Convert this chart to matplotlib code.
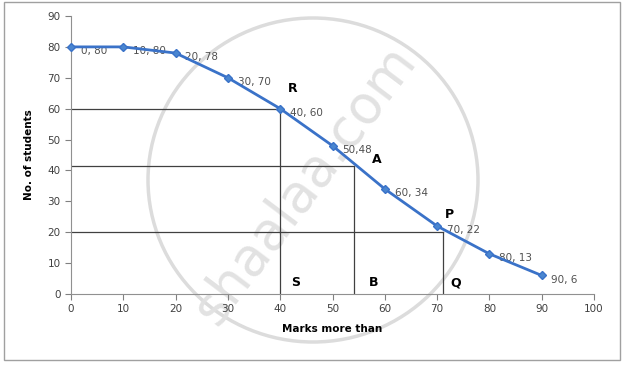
import matplotlib
matplotlib.use("Agg")
import matplotlib.pyplot as plt
from matplotlib.patches import Ellipse, Rectangle

marks = [0, 10, 20, 30, 40, 50, 60, 70, 80, 90]
students = [80, 80, 78, 70, 60, 48, 34, 22, 13, 6]
point_labels = ["0, 80", "10, 80", "20, 78", "30, 70", "40, 60", "50,48", "60, 34", "70, 22", "80, 13", "90, 6"]
x_ticks = [0, 10, 20, 30, 40, 50, 60, 70, 80, 90, 100]
y_ticks = [0, 10, 20, 30, 40, 50, 60, 70, 80, 90]

h_lines = [(60, 40), (41.4, 54.1), (20, 71.1)]   # (y, x_end)
letters = [("R", 41.5, 64.5), ("A", 57.5, 41.5), ("P", 71.5, 23.5),
           ("S", 42, 1.5), ("B", 57, 1.5), ("Q", 72.5, 1.5)]

fig = plt.figure(figsize=(6.27, 3.67), dpi=100)
fig.patches.append(Rectangle((4/627, 1-360/367), 616/627, 358/367, transform=fig.transFigure,
                             fill=False, edgecolor="#a0a0a0", linewidth=1.0))
# watermark
fig.patches.append(Ellipse((313/627, 1-180/367), 330/627, 324/367, transform=fig.transFigure,
                           fill=False, edgecolor="#dcdcdc", linewidth=2.5, zorder=0))
fig.text(305/627, 1-185/367, "shaalaa.com", fontsize=38, color="#e2e2e2", rotation=53,
         ha="center", va="center", zorder=0)

ax = fig.add_axes([71/627, 1-294/367, 523/627, 278/367])
ax.set_zorder(2)
ax.patch.set_alpha(0)
ax.set_xlim(0, 100)
ax.set_ylim(0, 90)

for (yv, xe) in h_lines:
    ax.plot([0, xe], [yv, yv], color="#404040", linewidth=0.9)
    ax.plot([xe, xe], [0, yv], color="#404040", linewidth=0.9)

ax.plot(marks, students, color="#3a72c8", linewidth=2.0, marker="D", markersize=4.5,
        markerfacecolor="#4a86d0", markeredgecolor="#3a72c8", zorder=5, clip_on=False)
for xv, yv, lab in zip(marks, students, point_labels):
    ax.annotate(lab, (xv, yv), xytext=(7, -3), textcoords="offset points",
                fontsize=7.5, color="#505050", va="center", ha="left")

for t, xv, yv in letters:
    ax.text(xv, yv, t, fontsize=9, fontweight="bold", color="black", ha="left", va="bottom")

ax.set_xticks(x_ticks)
ax.set_yticks(y_ticks)
ax.tick_params(axis="both", colors="#808080", labelcolor="#404040", labelsize=7.5,
               direction="out", length=4, width=0.8)
for s in ["top", "right"]:
    ax.spines[s].set_visible(False)
for s in ["left", "bottom"]:
    ax.spines[s].set_color("#909090")
ax.set_xlabel("Marks more than", fontsize=7.5, fontweight="bold", labelpad=7)
ax.set_ylabel("No. of students", fontsize=7.5, fontweight="bold", labelpad=10)

fig.savefig("out.png", dpi=100)
